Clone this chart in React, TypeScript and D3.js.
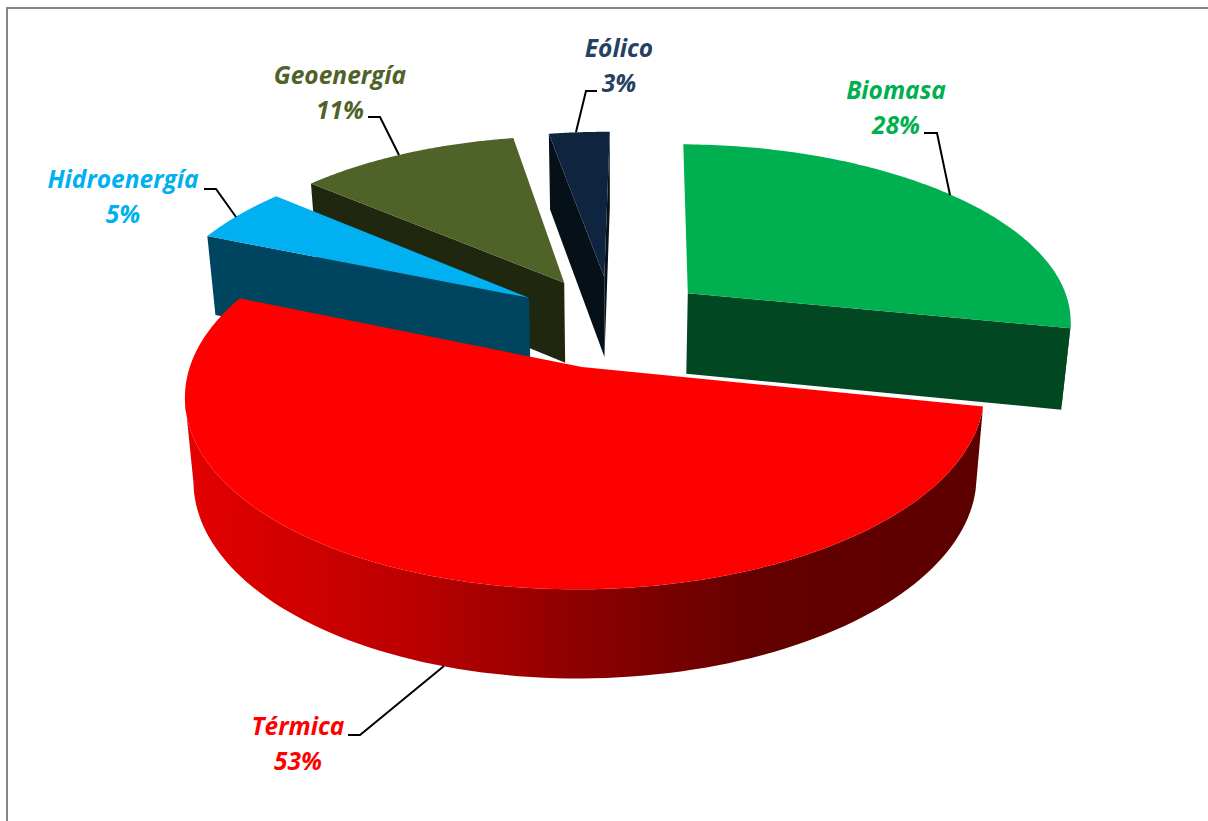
import React from "react";
import * as d3 from "d3";

// Energy mix by source, in percent, clockwise from just past twelve o'clock.
const sources = ["Biomasa", "Térmica", "Hidroenergía", "Geoenergía", "Eólico"];
const shares = [28, 53, 5, 11, 3];
const topColors = ["#00b050", "#ff0000", "#00b0f0", "#4f6228", "#0f243e"];
const wallColors = ["#004722", "url(#thermalWall)", "#004560", "#20270f", "#061019"];
const labelColors = ["#00b050", "#ff0000", "#00b0f0", "#4f6228", "#254061"];

// Back-to-front painting order for the exploded slices.
const paintOrder = [4, 3, 2, 0, 1];

// Label anchors and leader lines, in the same order as the sources.
const labelCenters = [[896, 99], [298, 735], [123, 188], [340, 84], [619, 57]];
const leaderPaths = [
  [[924, 133], [937, 133], [950, 195]],
  [[348, 735], [360, 735], [444, 666]],
  [[204, 189], [216, 189], [236, 217]],
  [[368, 117], [380, 117], [399, 155]],
  [[597, 91], [586, 91], [576, 132]],
];

// Perspective camera for the tilted pie plane.
const VANISH_X = 612;
const VANISH_Y = -943.6;
const SCALE_X = 382;
const SCALE_Y = 1265;
const PERSPECTIVE = 0.14;
const YAW = 0.008;
const EXPLODE = 0.26;
const ROTATION = (0.8 * Math.PI) / 180;
const BOTTOM_SHRINK = 0.98;

type Pt = [number, number];

const project = (u: number, v: number): Pt => {
  const s = 1 / (1 - PERSPECTIVE * v);
  return [VANISH_X + SCALE_X * u * s * (1 + YAW * u), VANISH_Y + SCALE_Y * s];
};

// The underside is slightly further away, and the extrusion grows toward the viewer.
const dropToBase = ([x, y]: Pt): Pt => [
  VANISH_X + (x - VANISH_X) * BOTTOM_SHRINK,
  y + 80 + (y - 277) * 0.029,
];

// A face shows when moving its top edge downward carries it away from the slice's interior.
const faceIsVisible = (a: Pt, b: Pt, c: Pt) => {
  if (Math.abs(b[0] - a[0]) < 1e-6) return false;
  const yOnLine = a[1] + ((c[0] - a[0]) * (b[1] - a[1])) / (b[0] - a[0]);
  return c[1] < yOnLine;
};

// Edges that run almost straight along the view direction leave no visible wall.
const isEdgeOn = (a: Pt, b: Pt) => Math.abs(b[0] - a[0]) / Math.abs(b[1] - a[1]) < 0.035;

const outline = d3.line<Pt>().curve(d3.curveLinearClosed);

const arcs = d3.pie<number>().sort(null).startAngle(ROTATION).endAngle(2 * Math.PI + ROTATION)(shares);

const slices = arcs.map((arc, i) => {
  const mid = (arc.startAngle + arc.endAngle) / 2;
  const ou = EXPLODE * Math.sin(mid);
  const ov = -EXPLODE * Math.cos(mid);
  const apex = project(ou, ov);
  const thetas = d3.range(0, 121).map((k) => arc.startAngle + ((arc.endAngle - arc.startAngle) * k) / 120);
  const rim = thetas.map((t) => project(ou + Math.sin(t), ov - Math.cos(t)));
  const top: Pt[] = [apex, ...rim];
  const centroid: Pt = [d3.mean(top, (p) => p[0])!, d3.mean(top, (p) => p[1])!];

  const walls: string[] = [];
  const quad = (pts: Pt[]) => outline([...pts, ...pts.map(dropToBase).reverse()])!;
  [rim[0], rim[120]].forEach((end) => {
    if (!isEdgeOn(apex, end) && faceIsVisible(apex, end, centroid)) walls.push(quad([apex, end]));
  });
  const frontRim = rim.filter((p, k) => k < 120 && faceIsVisible(p, rim[k + 1], apex));
  if (frontRim.length > 1) {
    const lastIndex = rim.indexOf(frontRim[frontRim.length - 1]);
    walls.push(quad([...frontRim, rim[lastIndex + 1]]));
  }
  return { i, top: outline(top)!, walls };
});

const wallStops: [number, string][] = [
  [0, "#e40000"],
  [0.12, "#d40000"],
  [0.3, "#b80000"],
  [0.5, "#8c0000"],
  [0.72, "#640000"],
  [1, "#5c0000"],
];

const leader = d3.line<number[]>((p) => p[0], (p) => p[1]);

export default function App() {
  return (
    <svg
      width={1208}
      height={821}
      style={{ position: "absolute", left: 0, top: 0, display: "block", background: "#fff" }}
    >
      <defs>
        <linearGradient id="thermalWall" gradientUnits="userSpaceOnUse" x1={184} y1={0} x2={980} y2={0}>
          {wallStops.map(([o, c]) => (
            <stop key={o} offset={o} stopColor={c} />
          ))}
        </linearGradient>
      </defs>
      <path d="M7 821V8H1208" fill="none" stroke="#868686" strokeWidth={2} />
      {paintOrder.map((idx) => {
        const s = slices[idx];
        return (
          <g key={sources[idx]}>
            {s.walls.map((d, k) => (
              <path key={k} d={d} fill={wallColors[idx]} />
            ))}
            <path d={s.top} fill={topColors[idx]} />
          </g>
        );
      })}
      {leaderPaths.map((pts, i) => (
        <path key={i} d={leader(pts)!} fill="none" stroke="#000" strokeWidth={2} />
      ))}
      {sources.map((name, i) => (
        <text
          key={name}
          x={labelCenters[i][0]}
          y={labelCenters[i][1]}
          textAnchor="middle"
          fill={labelColors[i]}
          fontFamily="Open Sans"
          fontWeight={700}
          fontStyle="italic"
          fontSize={24.5}
        >
          <tspan x={labelCenters[i][0]}>{name}</tspan>
          <tspan x={labelCenters[i][0]} dy={34.5}>{`${shares[i]}%`}</tspan>
        </text>
      ))}
    </svg>
  );
}
